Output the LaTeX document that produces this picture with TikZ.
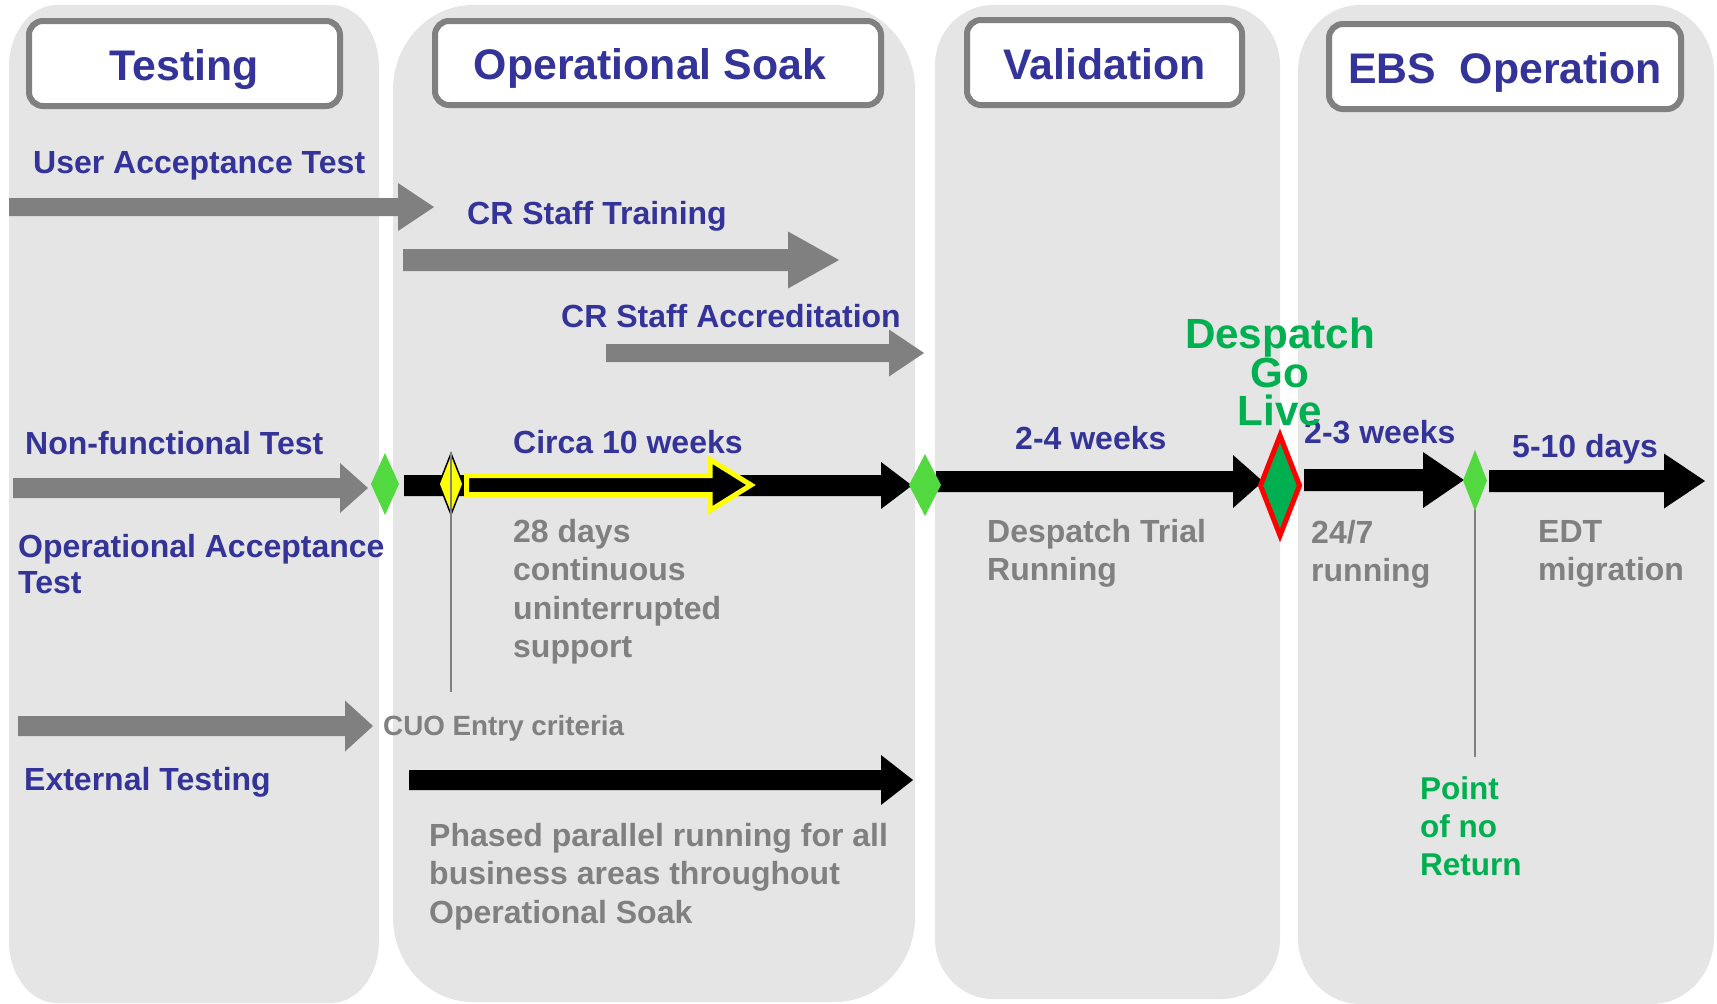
\documentclass[tikz,border=0pt]{standalone}
\usepackage{fontspec}
\setmainfont{Liberation Sans}
\definecolor{lanefill}{RGB}{229,229,229}
\definecolor{ttlblue}{RGB}{51,51,153}
\definecolor{arrgrey}{RGB}{128,128,128}
\definecolor{msgreen}{RGB}{82,217,64}
\definecolor{golive}{RGB}{0,176,80}
\definecolor{hiyellow}{RGB}{255,255,0}
\definecolor{gored}{RGB}{255,0,0}
\newcommand{\lanebg}[6]{%
 \fill[lanefill] ({#1+#5},#2) -- ({#3-#5},#2)
   arc[start angle=-90,end angle=0,x radius=#5,y radius=#6]
   -- (#3,{#4-#6})
   arc[start angle=0,end angle=90,x radius=#5,y radius=#6]
   -- ({#1+#5},#4)
   arc[start angle=90,end angle=180,x radius=#5,y radius=#6]
   -- (#1,{#2+#6})
   arc[start angle=180,end angle=270,x radius=#5,y radius=#6]
   -- cycle;}
\newcommand{\blockarr}[7]{%
 \path[#1] (#2,{#4-#5}) -- ({#3-#6},{#4-#5}) -- ({#3-#6},{#4-#7}) -- (#3,#4)
   -- ({#3-#6},{#4+#7}) -- ({#3-#6},{#4+#5}) -- (#2,{#4+#5}) -- cycle;}
\newcommand{\dmd}[5]{%
 \path[#1] ({#2-#4},#3) -- (#2,{#3-#5}) -- ({#2+#4},#3) -- (#2,{#3+#5}) -- cycle;}
\newcommand{\Lft}[1]{\vtop{\halign{##\hfil\cr#1\crcr}}}
\newcommand{\Ctr}[1]{\vtop{\halign{\hfil##\hfil\cr#1\crcr}}}
\tikzset{
  titlebox/.style={draw=arrgrey, line width=6pt, fill=white, rounded corners=14pt,
    inner sep=0pt, text height=33pt, text depth=0pt, text=ttlblue,
    font=\bfseries\fontsize{42.8}{48}\selectfont},
  bluetxt/.style={anchor=base west, inner sep=0pt, text=ttlblue,
    font=\bfseries\fontsize{32}{36}\selectfont},
  greytxt/.style={anchor=base west, inner sep=0pt, text=arrgrey,
    font=\bfseries\fontsize{32}{38.5}\selectfont},
  greyarr/.style={fill=arrgrey},
  blackarr/.style={fill=black},
  milestone/.style={fill=msgreen},
  vline/.style={draw=arrgrey, line width=2pt}
}
\begin{document}
\begin{tikzpicture}[x=1pt, y=-1pt]
\useasboundingbox (0,0) rectangle (1717,1004);
% lanes
\lanebg{9}{5}{379}{1003}{48}{62}
\lanebg{393}{5}{915}{1002}{80}{85}
\lanebg{935}{5}{1280}{999}{58}{60}
\lanebg{1298}{5}{1714}{1004}{62}{67}
% title boxes
\node[titlebox, minimum width=311pt, minimum height=85pt] (tTesting) at (184.5,63.5) {Testing};
\node[titlebox, minimum width=446pt, minimum height=84pt] (tSoak) at (658,63) {Operational Soak\hspace*{16pt}};
\node[titlebox, minimum width=275pt, minimum height=85pt] (tValid) at (1104.5,62.5) {Validation};
\node[titlebox, minimum width=352pt, minimum height=85pt] (tEBS) at (1505,66.5) {EBS \ Operation};
% grey arrows
\blockarr{greyarr}{9}{434}{207}{9}{36}{24}
\blockarr{greyarr}{403}{839}{260}{11}{51}{28.5}
\blockarr{greyarr}{606}{924}{353}{9}{35}{23.5}
\blockarr{greyarr}{13}{368}{488}{10}{28}{25}
\blockarr{greyarr}{18}{373}{726}{10}{28}{25.5}
% black arrows
\blockarr{blackarr}{404}{912}{485.5}{10.5}{31}{23.5}
\blockarr{blackarr}{936}{1263}{481.5}{10.5}{30}{26.5}
\blockarr{blackarr}{1304}{1464}{480}{11}{41}{28}
\blockarr{blackarr}{1489}{1705}{481}{11}{41}{27.5}
\blockarr{blackarr}{409}{913}{780}{10}{32}{25}
% yellow outlined arrow
\blockarr{fill=black, draw=hiyellow, line width=5pt}{466.5}{751}{485}{9.5}{41}{25.5}
% milestones
\dmd{milestone}{385}{484}{14}{31}
\dmd{milestone}{925}{485}{16}{31}
\coordinate (pnrTop) at (1475,480);
\coordinate (pnrEnd) at (1475,757);
\draw[vline] (pnrTop) -- (pnrEnd);
\dmd{milestone}{1475}{480.5}{12}{30.5}
\dmd{fill=hiyellow, draw=black, line width=1.5pt}{451}{484}{12}{30.5}
\coordinate (cuoTop) at (451,452);
\coordinate (cuoEnd) at (451,692);
\draw[vline] (cuoTop) -- (cuoEnd);
\dmd{fill=golive, draw=gored, line width=5pt}{1280}{485.5}{19.5}{50}
% blue labels
\node[bluetxt] (uat) at (33,173) {User Acceptance Test};
\node[bluetxt] (crt) at (467,224) {CR Staff Training};
\node[bluetxt] (cra) at (561,327) {CR Staff Accreditation};
\node[bluetxt] (nft) at (25,454) {Non-functional Test};
\node[bluetxt] (oat) at (18,557) {\Lft{Operational Acceptance\cr Test}};
\node[bluetxt] (ext) at (24,790) {External Testing};
\node[bluetxt] (circa) at (513,453) {Circa 10 weeks};
\node[bluetxt] (w24) at (1015,449) {2-4 weeks};
\node[bluetxt] (w23) at (1304,443) {2-3 weeks};
\node[bluetxt] (d510) at (1512,457) {5-10 days};
% grey labels
\node[greytxt] (days28) at (513,542) {\Lft{28 days\cr continuous\cr uninterrupted\cr support}};
\node[greytxt] (dtr) at (987,542) {\Lft{Despatch Trial\cr Running}};
\node[greytxt] (run247) at (1311,543) {\Lft{24/7\cr running}};
\node[greytxt] (edt) at (1538,542) {\Lft{EDT\cr migration}};
\node[greytxt] (phased) at (429,846) {\Lft{Phased parallel running for all\cr business areas throughout\cr Operational Soak}};
\node[greytxt, font=\bfseries\fontsize{27.8}{32}\selectfont] (cuo) at (383,735) {CUO Entry criteria};
% green labels
\node[anchor=base west, inner sep=0pt, text=golive, font=\bfseries\fontsize{31.5}{38}\selectfont] (pnr) at (1420,799) {\Lft{Point\cr of no\cr Return}};
\node[anchor=base, inner sep=0pt, text=golive, font=\bfseries\fontsize{42.2}{38}\selectfont] (golive) at (1280,348) {\Ctr{Despatch\cr Go\cr Live}};
\end{tikzpicture}
\end{document}
